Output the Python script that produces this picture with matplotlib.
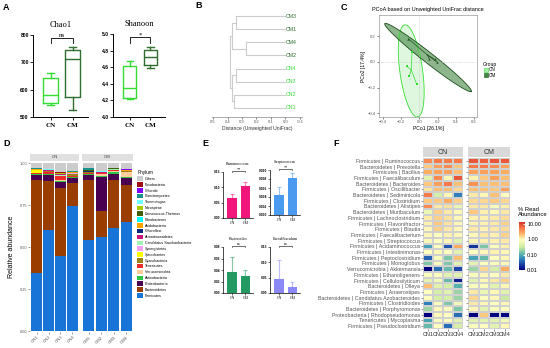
import numpy as np
import matplotlib.pyplot as plt
from matplotlib.colors import LogNorm, LinearSegmentedColormap
from matplotlib.patches import Patch
from matplotlib.lines import Line2D

W, H = 550, 348
SANS = 'Liberation Sans'
SERIF = 'Liberation Serif'
plt.rcParams['font.family'] = SANS

# ---------------- data ----------------
groups = ['CN', 'CM']
cn_col, cm_col = '#33dd33', '#2e6e2e'

# A: alpha diversity boxes (whislo, q1, med, q3, whishi)
chao1_stats = [(545, 553, 580, 643, 662), (527, 575, 712, 745, 757)]
shannon_stats = [(4.22, 4.23, 4.35, 4.61, 4.67), (4.59, 4.63, 4.72, 4.81, 4.84)]

# B: dendrogram (leaves bottom -> top, merges as (node a, node b, height))
leaf_names = ['CN1', 'CN2', 'CN3', 'CN4', 'CM2', 'CM4', 'CM1', 'CM3']
merges = [(0, 1, 0.355), (2, 3, 0.343), (8, 9, 0.372),
          (4, 5, 0.275), (6, 7, 0.343), (11, 12, 0.368), (10, 13, 0.385)]

# C: PCoA
cn_pc1 = [-0.08, -0.14, -0.11, -0.03]
cn_pc2 = [0.08, -0.035, -0.11, -0.175]
cm_pc1 = [-0.12, 0.11, 0.17, 0.19]
cm_pc2 = [0.18, 0.02, 0.02, 0.0]
ell_center = [(-0.09, -0.07), (0.095, 0.035)]
ell_major = [(0.07, -0.36), (0.475, -0.265)]
ell_minor = [(0.124, 0.012), (0.035, 0.032)]

# D: phylum composition (bottom -> top of stack), samples CN1-4, CM1-4
samples = ['CN1', 'CN2', 'CN3', 'CN4', 'CM1', 'CM2', 'CM3', 'CM4']
phyla = ['Firmicutes', 'Bacteroidetes', 'Proteobacteria', 'Actinobacteria',
         'Verrucomicrobia', 'Tenericutes', 'Cyanobacteria', 'Spirochaetes',
         'Synergistetes', 'Candidatus Saccharibacteria', 'Armatimonadetes',
         'Chloroflexi', 'Acidobacteria', 'Fibrobacteres', 'Deinococcus-Thermus',
         'Nitrospirae', 'Thermotogae', 'Planctomycetes', 'Chlorobi',
         'Fusobacteria', 'Others']
phylum_colors = ['#1874d6', '#9a3d00', '#4a0050', '#2fc444', '#ffcc9c',
                 '#ee2a2a', '#9c8318', '#ffff00', '#f0a0f0', '#9cf5b4',
                 '#c8187e', '#0c2a78', '#ffa200', '#00ffff', '#3f5f0a',
                 '#a8cc00', '#70ffff', '#16948c', '#8000ff', '#a00e14', '#cccccc']
abund = [
    [0.350, 0.605, 0.450, 0.745, 0.545, 0.562, 0.614, 0.650],
    [0.550, 0.289, 0.400, 0.135, 0.355, 0.155, 0.285, 0.221],
    [0.030, 0.034, 0.040, 0.030, 0.030, 0.198, 0.036, 0.039],
    [0.004, 0.006, 0.006, 0.006, 0.004, 0.008, 0.010, 0.006],
    [0.001, 0.002, 0.004, 0.003, 0.003, 0.012, 0.006, 0.028],
    [0.003, 0.010, 0.020, 0.006, 0.006, 0.003, 0.006, 0.003],
    [0.003, 0.006, 0.002, 0.010, 0.002, 0.002, 0.003, 0.003],
    [0.016, 0.000, 0.000, 0.002, 0.000, 0.000, 0.000, 0.000],
    [0.001, 0.001, 0.001, 0.001, 0.001, 0.001, 0.001, 0.001],
    [0.001, 0.002, 0.008, 0.003, 0.001, 0.002, 0.002, 0.002],
    [0.001, 0.001, 0.001, 0.001, 0.001, 0.001, 0.001, 0.001],
    [0.001, 0.001, 0.001, 0.001, 0.004, 0.001, 0.001, 0.001],
    [0.002, 0.001, 0.001, 0.002, 0.002, 0.001, 0.001, 0.001],
    [0.001, 0.001, 0.002, 0.001, 0.001, 0.001, 0.001, 0.001],
    [0.001, 0.001, 0.001, 0.001, 0.001, 0.001, 0.001, 0.001],
    [0.001, 0.001, 0.001, 0.001, 0.001, 0.001, 0.001, 0.001],
    [0.001, 0.001, 0.003, 0.001, 0.001, 0.001, 0.001, 0.001],
    [0.001, 0.001, 0.001, 0.001, 0.010, 0.001, 0.001, 0.001],
    [0.001, 0.001, 0.001, 0.001, 0.001, 0.001, 0.001, 0.001],
    [0.001, 0.001, 0.001, 0.001, 0.001, 0.001, 0.001, 0.001],
    [0.030, 0.035, 0.056, 0.048, 0.030, 0.047, 0.027, 0.037],
]

# E: genus means and upper error
genus_names = ['Ruminococcus', 'Streptococcus', 'Bacteroides', 'Faecalibaculum']
genus_mean = [(0.066, 0.104), (0.0044, 0.0083), (0.0365, 0.029), (0.047, 0.0196)]
genus_err = [(0.011, 0.012), (0.0019, 0.0010), (0.026, 0.0104), (0.062, 0.0154)]
genus_sig = ['**', '**', 'ns', 'ns']
genus_colors = ['#f0167c', '#4a9bf0', '#239a62', '#8b89f5']
genus_ticks = [[0, 0.05, 0.10, 0.15], [0, 0.002, 0.004, 0.006, 0.008, 0.010],
               [0, 0.02, 0.04, 0.06, 0.08], [0, 0.05, 0.10, 0.15]]
genus_fmt = ['{:.2f}', '{:.3f}', '{:.2f}', '{:.2f}']

# F: heatmap of % read abundance
heat_rows = ['Firmicutes | Ruminococcus', 'Bacteroidetes | Prevotella', 'Firmicutes | Bacillus',
             'Firmicutes | Faecalibaculum', 'Bacteroidetes | Bacteroides', 'Firmicutes | Oscillibacter',
             'Bacteroidetes | Sediminicola', 'Firmicutes | Clostridium', 'Bacteroidetes | Alistipes',
             'Bacteroidetes | Muribaculum', 'Firmicutes | Lachnoclostridium', 'Firmicutes | Flavonifractor',
             'Firmicutes | Blautia', 'Firmicutes | Faecalibacterium', 'Firmicutes | Streptococcus',
             'Firmicutes | Acidaminococcus', 'Firmicutes | Intestinimonas', 'Firmicutes | Peptoclostridium',
             'Firmicutes | Monoglobus', 'Verrucomicrobia | Akkermansia', 'Firmicutes | Ethanoligenens',
             'Firmicutes | Cellulosilyticum', 'Bacteroidetes | Olleya', 'Firmicutes | Anaerostipes',
             'Bacteroidetes | Candidatus Azobacteroides', 'Firmicutes | Clostridioides',
             'Bacteroidetes | Porphyromonas', 'Proteobacteria | Rhodopseudomonas',
             'Tenericutes | Mycoplasma', 'Firmicutes | Pseudoclostridium']
heat_vals = [
    [4.0, 5.0, 5.0, 5.0, 8.0, 7.0, 8.0, 8.0],
    [1.8, 3.0, 4.0, 1.8, 5.0, 5.0, 4.0, 3.0],
    [2.5, 3.0, 3.0, 2.0, 3.0, 3.0, 3.0, 2.5],
    [0.5, 4.0, 1.0, 8.0, 1.1, 1.8, 3.0, 2.0],
    [1.8, 3.0, 5.0, 2.0, 3.5, 2.0, 2.0, 2.0],
    [1.3, 2.0, 2.0, 1.5, 2.0, 2.0, 1.8, 3.0],
    [5.0, 0.4, 1.0, 0.05, 1.2, 1.0, 2.0, 0.9],
    [1.8, 1.8, 2.5, 1.6, 1.5, 1.5, 1.8, 1.5],
    [4.0, 1.2, 1.3, 0.6, 1.2, 1.2, 0.8, 1.1],
    [0.6, 1.6, 1.2, 1.0, 1.8, 1.1, 1.0, 1.2],
    [1.2, 1.6, 1.3, 1.0, 1.1, 1.1, 1.2, 1.4],
    [1.1, 1.8, 1.3, 1.0, 1.1, 1.1, 1.2, 1.6],
    [1.0, 1.6, 1.2, 1.0, 1.2, 1.1, 1.2, 1.4],
    [1.0, 0.9, 1.1, 1.0, 1.0, 1.2, 1.1, 1.6],
    [1.0, 0.9, 1.0, 0.5, 1.0, 1.1, 1.1, 1.2],
    [0.08, 0.9, 0.03, 2.5, 0.02, 0.15, 0.8, 1.1],
    [0.9, 1.0, 0.9, 0.5, 0.9, 1.0, 1.1, 1.0],
    [0.035, 0.8, 0.15, 2.0, 0.08, 0.12, 0.9, 1.0],
    [0.15, 0.8, 0.15, 0.5, 0.5, 0.9, 0.8, 1.0],
    [0.01, 0.04, 0.12, 0.025, 0.2, 1.5, 0.4, 2.5],
    [0.8, 0.8, 0.5, 0.5, 0.8, 1.0, 0.9, 1.2],
    [0.5, 0.7, 0.12, 0.015, 0.5, 1.0, 1.2, 1.6],
    [2.0, 0.5, 0.4, 0.1, 0.8, 0.8, 0.5, 1.0],
    [0.9, 0.4, 0.5, 0.2, 1.2, 0.6, 1.0, 0.5],
    [0.9, 0.4, 0.4, 0.2, 1.5, 0.9, 1.0, 0.3],
    [0.05, 0.8, 0.15, 0.7, 1.2, 1.0, 0.9, 1.0],
    [0.2, 1.0, 0.8, 0.15, 1.0, 0.5, 0.8, 0.9],
    [0.01, 1.0, 0.9, 0.04, 0.01, 1.8, 0.01, 0.01],
    [0.08, 0.8, 0.9, 0.5, 0.5, 0.5, 0.5, 0.7],
    [0.12, 0.9, 0.04, 0.4, 0.8, 0.9, 0.5, 1.0],
]


def box(l, t, r, b):
    return [l / W, 1 - b / H, (r - l) / W, (b - t) / H]


fig = plt.figure(figsize=(5.5, 3.48), dpi=100)

for lab, (x, y) in zip('ABCDEF', [(3, 8), (195, 6), (341, 7), (3, 144), (202, 144), (333, 144)]):
    fig.text(x / W, 1 - y / H, lab, fontsize=6.5, fontweight='bold', va='center', ha='left')


# ---------------- A ----------------
def alpha_box(rect, stats, ylim, yticks, title, sig, sig_y):
    ax = fig.add_axes(box(*rect))
    for i, (s, c) in enumerate(zip(stats, [cn_col, cm_col])):
        st = dict(whislo=s[0], q1=s[1], med=s[2], q3=s[3], whishi=s[4])
        kw = dict(color=c, lw=1.0)
        ax.bxp([st], positions=[i + 1], widths=0.65, showfliers=False, capwidths=0.3,
               boxprops=kw, whiskerprops=kw, capprops=kw, medianprops=kw)
    ax.set_xlim(0.2, 2.7)
    ax.set_ylim(*ylim)
    ax.set_yticks(yticks)
    ax.tick_params(axis='y', labelsize=3.6, length=2, width=0.6, pad=1)
    for t in ax.get_yticklabels():
        t.set_fontweight('bold')
    ax.set_xticks([1, 2])
    ax.set_xticklabels(groups, fontsize=5, fontweight='bold', family=SERIF)
    ax.tick_params(axis='x', length=2, width=0.6, pad=2)
    for sp in ['top', 'right']:
        ax.spines[sp].set_visible(False)
    for sp in ['left', 'bottom']:
        ax.spines[sp].set_linewidth(0.7)
    ax.set_title(title, fontsize=6, family=SERIF, pad=6)
    lo, hi = sig_y
    ax.plot([1, 1, 2, 2], [lo, hi, hi, lo], color='k', lw=0.6, clip_on=False)
    ax.text(1.5, hi, sig, ha='center', va='bottom', fontsize=5, family=SERIF)
    return ax


alpha_box((33, 35, 88, 117), chao1_stats, (500, 800), [500, 600, 700, 800], 'Chao1', 'ns', (771, 789))
alpha_box((113, 34, 165, 117), shannon_stats, (4.0, 5.0), [4.0, 4.2, 4.4, 4.6, 4.8, 5.0],
          'Shanoon', '*', (4.89, 4.96))

# ---------------- B ----------------
axb = fig.add_axes(box(212, 10, 302, 117))
node_y = {i: float(i) for i in range(len(leaf_names))}
node_h = {i: 0.0 for i in range(len(leaf_names))}
for k, (a, b, h) in enumerate(merges):
    nid = len(leaf_names) + k
    for c in (a, b):
        axb.plot([node_h[c], h], [node_y[c], node_y[c]], color='#cccccc', lw=0.8)
    axb.plot([h, h], [node_y[a], node_y[b]], color='#cccccc', lw=0.8)
    node_y[nid] = (node_y[a] + node_y[b]) / 2
    node_h[nid] = h
for i, name in enumerate(leaf_names):
    axb.text(-0.004, i, name, fontsize=3.8, va='center', ha='left',
             color=cn_col if name.startswith('CN') else cm_col)
axb.set_xlim(0.507, -0.114)
axb.set_ylim(-0.69, 7.46)
axb.set_xticks([0.5, 0.4, 0.3, 0.2, 0.1, 0.0, -0.1])
axb.set_xticklabels(['0.5', '0.4', '0.3', '0.2', '0.1', '0.0', '-0.1'])
axb.tick_params(axis='x', labelsize=3, length=1.5, width=0.5, colors='#555555', pad=1)
axb.set_yticks([])
for sp in ['top', 'right', 'left']:
    axb.spines[sp].set_visible(False)
axb.spines['bottom'].set_color('#888888')
axb.spines['bottom'].set_linewidth(0.5)
axb.set_xlabel('Distance (Unweighted UniFrac)', fontsize=3.6, labelpad=1, color='#333333')

# ---------------- C ----------------
axc = fig.add_axes(box(379, 15, 477, 117))
t = np.linspace(0, 2 * np.pi, 200)
fills = [('#98e698', cn_col, 0.3), ('#2f7a2f', '#1d4d1d', 0.55)]
for (cx, cy), (ux, uy), (vx, vy), (fc, ec, al) in zip(ell_center, ell_major, ell_minor, fills):
    ex = cx + ux * np.cos(t) + vx * np.sin(t)
    ey = cy + uy * np.cos(t) + vy * np.sin(t)
    axc.fill(ex, ey, color=fc, alpha=al, lw=0)
    axc.plot(ex, ey, color=ec, lw=0.6)
axc.axhline(0, color='#bbbbbb', lw=0.5, ls=':')
axc.axvline(0, color='#bbbbbb', lw=0.5, ls=':')
for xs, ys, col, mk in [(cn_pc1, cn_pc2, cn_col, 's'), (cm_pc1, cm_pc2, '#1f4f1f', '^')]:
    mx, my = np.mean(xs), np.mean(ys)
    for x, y in zip(xs, ys):
        axc.plot([mx, x], [my, y], color=col, lw=0.5)
    axc.scatter(xs, ys, s=3, color=col, marker=mk, zorder=3, linewidths=0)
axc.set_xlim(-0.444, 0.633)
axc.set_ylim(-0.43, 0.367)
axc.set_xticks([-0.4, -0.2, 0.0, 0.2, 0.4, 0.6])
axc.set_yticks([-0.4, -0.2, 0.0, 0.2])
axc.tick_params(labelsize=3, length=1.5, width=0.5, colors='#555555', pad=1)
for sp in axc.spines.values():
    sp.set_color('#999999')
    sp.set_linewidth(0.5)
axc.set_xlabel('PCo1 [26.1%]', fontsize=3.6, labelpad=1)
axc.set_ylabel('PCo2 [17.4%]', fontsize=3.6, labelpad=1)
fig.text(372 / W, 1 - 9 / H, 'PCoA based on Unweighted UniFrac distance', fontsize=4, va='center')
leg_c = [Line2D([], [], marker='s', ls='', ms=3, markerfacecolor='#a8eea8', markeredgecolor=cn_col, mew=0.4),
         Line2D([], [], marker='s', ls='', ms=3, markerfacecolor='#3d8a3d', markeredgecolor='#1d4d1d', mew=0.4)]
fig.legend(leg_c, groups, title='Group', loc='upper left', bbox_to_anchor=(480 / W, 1 - 59 / H),
           fontsize=3.3, title_fontsize=3.6, frameon=False, handlelength=1.0, handletextpad=0.3,
           labelspacing=0.1, borderpad=0.1)

# ---------------- D ----------------
abund = np.array(abund)
for f, (l, r) in enumerate([(30, 79), (82, 133)]):
    ax = fig.add_axes(box(l, 161, r, 332))
    xs = np.arange(1, 5)
    bottom = np.zeros(4)
    for p, col, row in zip(phyla, phylum_colors, abund):
        vals = row[f * 4:(f + 1) * 4]
        ax.bar(xs, vals, bottom=bottom, width=0.86, color=col, lw=0)
        bottom += vals
    ax.set_xlim(0.45, 4.55)
    ax.set_ylim(-0.003, 1.012)
    ax.set_xticks(xs)
    ax.set_xticklabels(samples[f * 4:(f + 1) * 4], rotation=45, ha='right', fontsize=3.2,
                       rotation_mode='anchor')
    ax.tick_params(length=1.2, width=0.4, colors='#555555', pad=1)
    ax.set_yticks([0, 0.25, 0.5, 0.75, 1.0])
    if f == 0:
        ax.set_yticklabels(['0.00', '0.25', '0.50', '0.75', '1.00'], fontsize=2.8)
        ax.set_ylabel('Relative abundance', fontsize=5, labelpad=3)
    else:
        ax.set_yticklabels([])
        ax.tick_params(axis='y', length=0)
    for sp in ax.spines.values():
        sp.set_visible(False)
    sx = fig.add_axes(box(l, 154, r, 160.5))
    sx.set_facecolor('#e0e0e0')
    sx.set_xticks([])
    sx.set_yticks([])
    for sp in sx.spines.values():
        sp.set_visible(False)
    sx.text(0.5, 0.5, groups[f], fontsize=3.2, ha='center', va='center', color='#444444',
            transform=sx.transAxes)
handles = [Patch(facecolor=c, edgecolor='none') for c in phylum_colors[::-1]]
fig.legend(handles, phyla[::-1], title='Phylum', loc='upper left', bbox_to_anchor=(135 / W, 1 - 168 / H),
           fontsize=2.6, title_fontsize=3.4, frameon=False, handlelength=1.6, handleheight=1.6,
           handletextpad=0.6, labelspacing=0.33, borderpad=0.1, alignment='left')

# ---------------- E ----------------
e_rects = [(223, 172, 253, 218), (270, 170, 300, 215), (223, 247, 253, 293), (270, 247, 300, 293)]
for rect, name, mean, err, sig, col, ticks, fmt in zip(e_rects, genus_names, genus_mean, genus_err,
                                                        genus_sig, genus_colors, genus_ticks, genus_fmt):
    ax = fig.add_axes(box(*rect))
    xs = np.array([1, 2])
    ax.bar(xs, mean, width=0.72, color=col, lw=0)
    ax.errorbar(xs, mean, yerr=[np.zeros(2), err], fmt='none', ecolor=col, alpha=0.55,
                elinewidth=0.8, capsize=1.5, capthick=0.8)
    ax.set_xlim(0.3, 2.58)
    ax.set_ylim(ticks[0], ticks[-1])
    ax.set_yticks(ticks)
    ax.set_yticklabels([fmt.format(v) for v in ticks], fontsize=2.3, fontweight='bold')
    ax.set_xticks(xs)
    ax.set_xticklabels(groups, fontsize=2.8, family=SERIF)
    ax.tick_params(length=1.2, width=0.4, pad=1)
    for sp in ['top', 'right']:
        ax.spines[sp].set_visible(False)
    for sp in ['left', 'bottom']:
        ax.spines[sp].set_linewidth(0.5)
    ax.set_title(name, fontsize=2.9, family=SERIF, pad=5)
    top = ticks[-1]
    ax.plot([1, 1, 2, 2], [top * 0.99, top * 1.03, top * 1.03, top * 0.99], color='k', lw=0.4,
            clip_on=False)
    ax.text(1.5, top * 1.02, sig, ha='center', va='bottom', fontsize=3, family=SERIF)

# ---------------- F ----------------
cmap = LinearSegmentedColormap.from_list('ra', [
    (0.0, '#00007f'), (0.14, '#1f4faa'), (0.24, '#3288bd'), (0.33, '#5ab4ac'),
    (0.47, '#c7e9a0'), (0.63, '#ffffbf'), (0.77, '#fdae61'), (0.89, '#f46d43'), (1.0, '#d73027')])
norm = LogNorm(vmin=0.01, vmax=13)
hv = np.array(heat_vals)
for f, (l, r) in enumerate([(423, 463), (468, 510)]):
    ax = fig.add_axes(box(l, 158, r, 329))
    mesh = ax.pcolormesh(np.arange(5), np.arange(len(heat_rows) + 1), hv[:, f * 4:(f + 1) * 4],
                         cmap=cmap, norm=norm, edgecolors='#d0d0d0', linewidth=0.3)
    ax.set_ylim(len(heat_rows), 0)
    ax.set_xlim(0, 4)
    ax.set_xticks(np.arange(4) + 0.5)
    ax.set_xticklabels(samples[f * 4:(f + 1) * 4], fontsize=4)
    ax.set_yticks(np.arange(len(heat_rows)) + 0.5)
    if f == 0:
        ax.set_yticklabels(heat_rows, fontsize=3.8, color='#4d4d4d')
    else:
        ax.set_yticklabels([])
        ax.tick_params(axis='y', length=0)
    ax.tick_params(length=1.2, width=0.4, colors='#555555', pad=0.8)
    ax.tick_params(axis='x', colors='#333333')
    for sp in ax.spines.values():
        sp.set_visible(False)
    sx = fig.add_axes(box(l, 147, r, 157))
    sx.set_facecolor('#d9d9d9')
    sx.set_xticks([])
    sx.set_yticks([])
    for sp in sx.spines.values():
        sp.set_visible(False)
    sx.text(0.5, 0.45, groups[f], fontsize=5, ha='center', va='center', color='#333333',
            transform=sx.transAxes)
cax = fig.add_axes(box(519, 222, 525, 270))
cb = fig.colorbar(mesh, cax=cax)
cb.set_ticks([0.01, 0.1, 1, 10])
cb.set_ticklabels(['0.01', '0.10', '1.00', '10.00'])
cb.ax.minorticks_off()
cb.ax.tick_params(labelsize=3.9, length=1.5, color='white', direction='in', pad=1.5)
cb.outline.set_visible(False)
fig.text(518 / W, 1 - 212 / H, '% Read\nAbundance', fontsize=4.2, va='center', ha='left',
         linespacing=1.0)

fig.savefig('out.png', dpi=100)
